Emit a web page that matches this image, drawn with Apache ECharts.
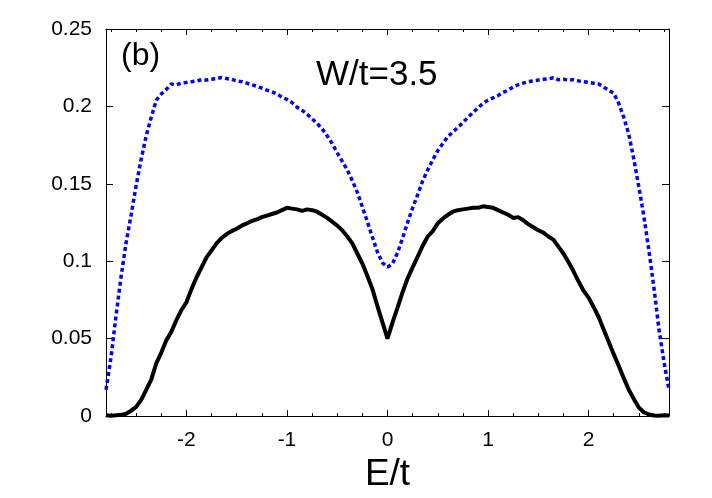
<!DOCTYPE html>
<html>
<head>
<meta charset="utf-8">
<script src="https://cdn.jsdelivr.net/npm/echarts@6/dist/echarts.min.js"></script>
<style>html,body{margin:0;padding:0;background:#fff;}#c{width:712px;height:498px;}</style>
</head>
<body>
<div id="c"></div>
<script>
var energies = [-2.80,-2.75,-2.70,-2.65,-2.60,-2.55,-2.50,-2.45,-2.40,-2.35,-2.30,-2.25,-2.20,-2.15,-2.10,-2.05,-2.00,-1.95,-1.90,-1.85,-1.80,-1.75,-1.70,-1.65,-1.60,-1.55,-1.50,-1.45,-1.40,-1.35,-1.30,-1.25,-1.20,-1.15,-1.10,-1.05,-1.00,-0.95,-0.90,-0.85,-0.80,-0.75,-0.70,-0.65,-0.60,-0.55,-0.50,-0.45,-0.40,-0.35,-0.30,-0.25,-0.20,-0.15,-0.10,-0.05,0.00,0.05,0.10,0.15,0.20,0.25,0.30,0.35,0.40,0.45,0.50,0.55,0.60,0.65,0.70,0.75,0.80,0.85,0.90,0.95,1.00,1.05,1.10,1.15,1.20,1.25,1.30,1.35,1.40,1.45,1.50,1.55,1.60,1.65,1.70,1.75,1.80,1.85,1.90,1.95,2.00,2.05,2.10,2.15,2.20,2.25,2.30,2.35,2.40,2.45,2.50,2.55,2.60,2.65,2.70,2.75,2.80];

var blackValues = [0.0005,0.0003,0.0005,0.0008,0.0015,0.0035,0.0060,0.0105,0.0170,0.0235,0.0340,0.0410,0.0490,0.0545,0.0620,0.0685,0.0735,0.0820,0.0895,0.0960,0.1025,0.1070,0.1115,0.1150,0.1175,0.1195,0.1210,0.1230,0.1245,0.1260,0.1270,0.1285,0.1295,0.1305,0.1315,0.1330,0.1345,0.1340,0.1335,0.1325,0.1335,0.1330,0.1320,0.1300,0.1280,0.1255,0.1230,0.1200,0.1160,0.1115,0.1050,0.0985,0.0905,0.0820,0.0710,0.0605,0.0500,0.0605,0.0700,0.0800,0.0890,0.0960,0.1030,0.1100,0.1160,0.1195,0.1245,0.1275,0.1300,0.1320,0.1330,0.1335,0.1340,0.1345,0.1345,0.1355,0.1350,0.1345,0.1330,0.1315,0.1300,0.1280,0.1285,0.1265,0.1240,0.1220,0.1200,0.1185,0.1160,0.1140,0.1095,0.1050,0.0995,0.0935,0.0870,0.0810,0.0765,0.0705,0.0640,0.0560,0.0480,0.0400,0.0325,0.0245,0.0170,0.0110,0.0055,0.0025,0.0010,0.0004,0.0003,0.0005,0.0004];

var blueValues = [0.017,0.038,0.065,0.090,0.112,0.130,0.149,0.166,0.181,0.193,0.204,0.208,0.211,0.2145,0.2140,0.2150,0.2155,0.2160,0.2165,0.2172,0.2170,0.2175,0.2180,0.2187,0.2180,0.2175,0.2165,0.2160,0.2150,0.2140,0.2130,0.2118,0.2105,0.2095,0.2080,0.2060,0.2045,0.2025,0.1995,0.1975,0.1950,0.1920,0.1890,0.1855,0.1810,0.1760,0.1700,0.1645,0.1590,0.1520,0.1445,0.1350,0.1255,0.1155,0.1060,0.0990,0.0962,0.0985,0.1055,0.1150,0.1250,0.1345,0.1430,0.1520,0.1590,0.1655,0.1715,0.1760,0.1805,0.1835,0.1865,0.1895,0.1930,0.1960,0.1990,0.2020,0.2040,0.2055,0.2070,0.2090,0.2105,0.2125,0.2140,0.2150,0.2160,0.2165,0.2170,0.2175,0.2178,0.2185,0.2172,0.2175,0.2170,0.2172,0.2165,0.2160,0.2155,0.2150,0.2145,0.2125,0.2105,0.2085,0.2020,0.1930,0.1820,0.1660,0.1480,0.1290,0.1070,0.0830,0.0560,0.0350,0.0170];

var xMajorTicks = [-2,-1,0,1,2];
var xMinorTicks = [-2.75,-2.5,-2.25,-1.75,-1.5,-1.25,-0.75,-0.5,-0.25,0.25,0.5,0.75,1.25,1.5,1.75,2.25,2.5,2.75];
var xLabels = [-2,-1,0,1,2];

var FONT = "'Liberation Sans', Arial, Helvetica, sans-serif";

function pairs(xs, ys) { return xs.map(function (x, i) { return [x, ys[i]]; }); }

function xAx(pos, ticks, len, showLine, showLabel) {
  return {
    type: 'value', position: pos, min: -2.8, max: 2.8,
    axisLine: { show: showLine, onZero: false, lineStyle: { color: '#000', width: 1 } },
    axisTick: { show: true, inside: true, length: len, customValues: ticks, lineStyle: { color: '#000', width: 1 } },
    axisLabel: showLabel ? { show: true, customValues: xLabels, fontSize: 21, color: '#000', fontFamily: FONT, margin: 14 } : { show: false },
    splitLine: { show: false }
  };
}

var bottomMain = xAx('bottom', xMajorTicks, 6, true, true);
bottomMain.name = 'E/t';
bottomMain.nameLocation = 'middle';
bottomMain.nameGap = 39;
bottomMain.nameTextStyle = { fontSize: 37, color: '#000', fontFamily: FONT };

function yAx(pos, showLabel) {
  return {
    type: 'value', position: pos, min: 0, max: 0.25, interval: 0.05,
    axisLine: { show: true, onZero: false, lineStyle: { color: '#000', width: 1 } },
    axisTick: { show: true, inside: true, length: 7, lineStyle: { color: '#000', width: 1 } },
    axisLabel: showLabel ? { show: true, fontSize: 21, color: '#000', fontFamily: FONT, margin: 14 } : { show: false },
    splitLine: { show: false }
  };
}

var chart = echarts.init(document.getElementById('c'), null, { renderer: 'canvas' });
chart.setOption({
  animation: false,
  backgroundColor: '#fff',
  grid: { left: 106, right: 43, top: 29, bottom: 76, containLabel: false },
  xAxis: [
    bottomMain,
    xAx('bottom', xMinorTicks, 3, false, false),
    xAx('top', xMajorTicks, 6, true, false),
    xAx('top', xMinorTicks, 3, false, false)
  ],
  yAxis: [yAx('left', true), yAx('right', false)],
  series: [
    {
      type: 'line', name: 'black', data: pairs(energies, blackValues),
      xAxisIndex: 0, yAxisIndex: 0, showSymbol: false, symbol: 'none',
      lineStyle: { color: '#000', width: 4 }
    },
    {
      type: 'line', name: 'blue', data: pairs(energies, blueValues),
      xAxisIndex: 0, yAxisIndex: 0, showSymbol: false, symbol: 'none',
      lineStyle: { color: '#0000ff', width: 3.5, type: [4, 3], cap: 'butt' }
    }
  ],
  graphic: [
    { type: 'text', x: 121, y: 56, style: { text: '(b)', fontSize: 32, fontFamily: FONT, fill: '#000', verticalAlign: 'middle', align: 'left' } },
    { type: 'text', x: 316, y: 75, style: { text: 'W/t=3.5', fontSize: 35, fontFamily: FONT, fill: '#000', verticalAlign: 'middle', align: 'left' } }
  ]
});
</script>
</body>
</html>
